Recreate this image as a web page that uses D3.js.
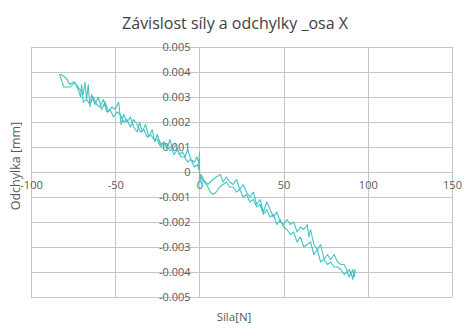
<!DOCTYPE html>
<html>
<head>
<meta charset="utf-8">
<script src="https://cdn.jsdelivr.net/npm/d3@7"></script>
<style>
  html, body { margin: 0; padding: 0; background: #fff; }
  svg { display: block; }
  text { font-family: "Open Sans", "Noto Sans", sans-serif; }
</style>
</head>
<body>
<svg id="chart" width="470" height="331"></svg>
<script>
// Measured force [N] vs. deflection [mm], X axis – negative load cycle (out and back)
const cycleNegative = [
  [0,0.0003],[-1.5,0.0006],[-3,0.0004],[-5,0.0005],[-7,0.0009],[-8.5,0.0006],[-10,0.0008],
  [-12,0.0007],[-14,0.0011],[-16,0.0009],[-17.5,0.0013],[-19,0.0010],[-21,0.0012],[-23,0.0011],
  [-25,0.0015],[-26.5,0.0012],[-28,0.0017],[-30,0.0014],[-32,0.0019],[-34,0.0016],[-35.5,0.0020],
  [-37,0.0016],[-39,0.0018],[-41,0.0022],[-43,0.0020],[-45,0.0023],[-46.5,0.0019],[-48,0.0028],
  [-50,0.0025],[-52,0.0026],[-54,0.0024],[-56,0.0028],[-58,0.0025],[-60,0.0030],[-62,0.0027],
  [-64,0.0031],[-65,0.0026],[-66,0.0035],[-67,0.0029],[-68,0.0036],[-69,0.0031],[-71,0.0033],
  [-73,0.0035],[-75,0.0036],[-77,0.0035],[-78.5,0.0037],[-80,0.0038],[-82,0.0039],
  [-83,0.0039],[-82,0.0037],[-80.5,0.0034],[-79,0.0034],[-76.5,0.0034],[-74,0.0036],[-72,0.0033],
  [-70.5,0.0030],[-70,0.0035],[-69,0.0028],[-67,0.0029],[-65,0.0027],[-63,0.0030],[-61,0.0027],
  [-59,0.0026],[-57,0.0029],[-55,0.0024],[-53,0.0025],[-51,0.0022],[-49,0.0024],[-47,0.0023],
  [-45,0.0020],[-43,0.0021],[-41,0.0018],[-39,0.0021],[-37,0.0019],[-35,0.0016],[-33,0.0017],
  [-31,0.0014],[-29,0.0015],[-27,0.0013],[-25,0.0013],[-23,0.0010],[-21,0.0012],[-19,0.0009],
  [-17,0.0010],[-15,0.0007],[-13,0.0009],[-11,0.0006],[-9,0.0006],[-7,0.0004],[-5,0.0005],
  [-3,0.0002],[-1,0.0003],[-0.3,0.0001],[0,0.0008],[0.2,-0.0004]
];

// Positive load cycle (out and back)
const cyclePositive = [
  [0.2,-0.0004],[1,-0.0001],[2.5,-0.0003],[5,-0.0005],[8,-0.0003],[10,-0.0002],[12.5,-0.0001],
  [14,-0.0004],[16,-0.0002],[18,-0.0004],[20,-0.0005],[22,-0.0003],[24,-0.0007],[26,-0.0005],
  [28,-0.0008],[30,-0.0010],[32,-0.0008],[34,-0.0013],[36,-0.0011],[38,-0.0016],[40,-0.0012],
  [42,-0.0015],[44,-0.0018],[46,-0.0016],[48,-0.0020],[50,-0.0021],[52,-0.0019],[54,-0.0021],
  [56,-0.0020],[58,-0.0024],[60,-0.0022],[62,-0.0023],[64,-0.0021],[65,-0.0026],[66,-0.0023],
  [68,-0.0029],[70,-0.0031],[72,-0.0029],[74,-0.0035],[76,-0.0033],[78,-0.0035],[80,-0.0033],
  [82,-0.0036],[84,-0.0037],[86,-0.0037],[88,-0.0040],[89,-0.0039],[90,-0.0041],[91,-0.0039],
  [92,-0.0042],[92.5,-0.0039],
  [91.5,-0.0041],[91,-0.0043],[90,-0.0040],[89,-0.0042],[87.5,-0.0040],[86,-0.0041],[84,-0.0039],
  [82,-0.0038],[80,-0.0038],[78,-0.0036],[76,-0.0037],[74,-0.0035],[72,-0.0036],[70,-0.0031],
  [68,-0.0033],[66,-0.0028],[64,-0.0029],[62,-0.0030],[60,-0.0026],[58,-0.0028],[56,-0.0024],
  [54,-0.0025],[52,-0.0023],[50,-0.0022],[48,-0.0019],[46,-0.0021],[44,-0.0017],[42,-0.0018],
  [40,-0.0015],[38,-0.0017],[36,-0.0013],[34,-0.0014],[32,-0.0011],[30,-0.0012],[28,-0.0009],
  [26,-0.0010],[24,-0.0007],[22,-0.0008],[20,-0.0006],[18,-0.0006],[16,-0.0004],[14,-0.0005],
  [12,-0.0006],[10,-0.0008],[8,-0.0009],[6.5,-0.0008],[5,-0.0006],[3,-0.0004],[1.5,-0.0003],
  [0.5,-0.0001]
];

const xTicks = [-100, -50, 0, 50, 100, 150];
const yTicks = [-0.005, -0.004, -0.003, -0.002, -0.001, 0, 0.001, 0.002, 0.003, 0.004, 0.005];

const titleText = "Závislost síly a odchylky _osa X";
const xTitle = "Síla[N]";
const yTitle = "Odchylka [mm]";

const svg = d3.select("#chart");
const plot = { left: 31, right: 452, top: 47, bottom: 297 };

const x = d3.scaleLinear().domain([-100, 150]).range([plot.left, plot.right]);
const y = d3.scaleLinear().domain([-0.005, 0.005]).range([plot.bottom, plot.top]);

const gridColor = "#c6c6c6";
const labelColor = "#595959";
// plain hyphen-minus for negative numbers
const hyphen = s => s.replace("\u2212", "-");

// gridlines
const grid = svg.append("g");
grid.selectAll("line.v").data(xTicks).join("line")
  .attr("x1", d => Math.round(x(d)) + 0.5).attr("x2", d => Math.round(x(d)) + 0.5)
  .attr("y1", plot.top).attr("y2", plot.bottom)
  .attr("stroke", gridColor).attr("stroke-width", 1);
grid.selectAll("line.h").data(yTicks).join("line")
  .attr("y1", d => Math.round(y(d)) + 0.5).attr("y2", d => Math.round(y(d)) + 0.5)
  .attr("x1", plot.left).attr("x2", plot.right)
  .attr("stroke", gridColor).attr("stroke-width", 1);

// x axis through y = 0
const xAxis = d3.axisBottom(x).tickValues(xTicks).tickSize(0).tickPadding(9)
  .tickFormat(d => hyphen(d3.format("d")(d)));
svg.append("g")
  .attr("transform", `translate(0,${Math.round(y(0)) + 0.5})`)
  .call(xAxis)
  .call(g => g.select(".domain").remove())
  .call(g => g.selectAll("text").attr("fill", labelColor).style("font-size", "11px")
    .style("font-family", '"Open Sans", sans-serif'));

// y axis through x = 0
const yAxis = d3.axisLeft(y).tickValues(yTicks).tickSize(0).tickPadding(9)
  .tickFormat(d => d === 0 ? "0" : hyphen(d3.format(".3f")(d)));
svg.append("g")
  .attr("transform", `translate(${Math.round(x(0)) + 0.5},0)`)
  .call(yAxis)
  .call(g => g.select(".domain").remove())
  .call(g => g.selectAll("text").attr("fill", labelColor).style("font-size", "11px")
    .style("font-family", '"Open Sans", sans-serif'));

// measured curves
const line = d3.line().x(d => x(d[0])).y(d => y(d[1]));
svg.append("g").selectAll("path").data([cycleNegative, cyclePositive]).join("path")
  .attr("d", line)
  .attr("fill", "none")
  .attr("stroke", "#45c3c4")
  .attr("stroke-width", 1.1)
  .attr("stroke-linejoin", "round");

// titles
svg.append("text")
  .attr("x", 235).attr("y", 29)
  .attr("text-anchor", "middle")
  .attr("fill", "#404040")
  .style("font-size", "16px")
  .text(titleText);

svg.append("text")
  .attr("x", 234).attr("y", 321)
  .attr("text-anchor", "middle")
  .attr("fill", labelColor)
  .style("font-size", "11.5px")
  .text(xTitle);

svg.append("text")
  .attr("transform", "translate(20,166) rotate(-90)")
  .attr("text-anchor", "middle")
  .attr("fill", labelColor)
  .style("font-size", "12.5px")
  .text(yTitle);
</script>
</body>
</html>
